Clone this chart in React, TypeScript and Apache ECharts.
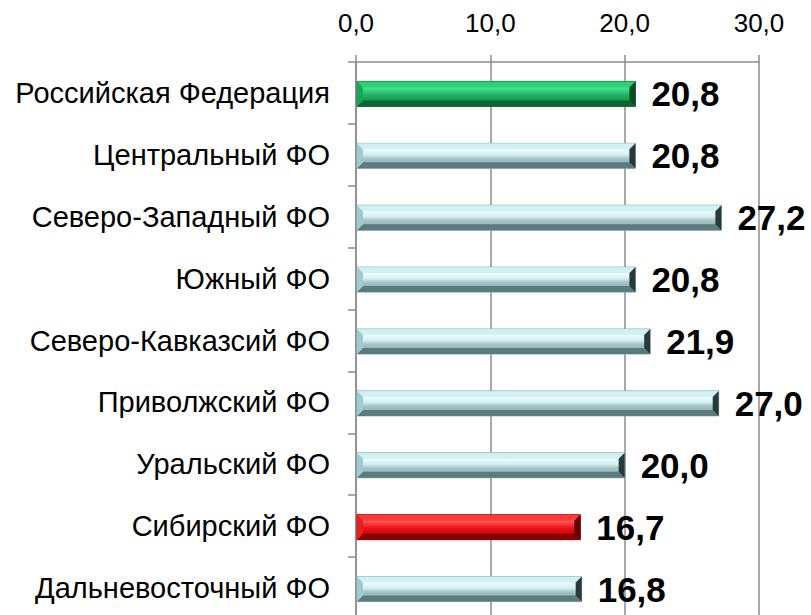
import React, { useEffect, useRef } from "react";
import * as echarts from "echarts";

const categories = [
  "Российская Федерация",
  "Центральный ФО",
  "Северо-Западный ФО",
  "Южный ФО",
  "Северо-Кавказсий ФО",
  "Приволжский ФО",
  "Уральский ФО",
  "Сибирский ФО",
  "Дальневосточный ФО",
];
const values = [20.8, 20.8, 27.2, 20.8, 21.9, 27.0, 20.0, 16.7, 16.8];
const barKinds = ["green", "cyan", "cyan", "cyan", "cyan", "cyan", "cyan", "red", "cyan"];
const xTicks = { min: 0, max: 30, interval: 10 };

const palettes: Record<string, any> = {
  cyan: {
    face: [
      [0, "#d2f1f4"],
      [0.2, "#f4feff"],
      [0.45, "#d4f0f2"],
      [0.62, "#a3c3c5"],
      [1, "#83a3a5"],
    ],
    top: "#cdeef1",
    bottom: "#5b7b7e",
    left: "#9ecbcf",
    right: "#26393b",
    edge: "#8fb0b3",
  },
  green: {
    face: [
      [0, "#22c066"],
      [0.25, "#48e592"],
      [0.55, "#1eb062"],
      [1, "#118040"],
    ],
    top: "#2ccf74",
    bottom: "#0b6630",
    left: "#1aa657",
    right: "#084a22",
    edge: "#0f7a3a",
  },
  red: {
    face: [
      [0, "#ff2a2a"],
      [0.25, "#ff5656"],
      [0.55, "#e81212"],
      [1, "#a80000"],
    ],
    top: "#ff3b3b",
    bottom: "#850000",
    left: "#e42020",
    right: "#5e0000",
    edge: "#c00000",
  },
};

const fmt = (v: number) => v.toFixed(1).replace(".", ",");
const FONT = "'Liberation Sans', Arial, sans-serif";

export default function App() {
  const ref = useRef<HTMLDivElement>(null);
  useEffect(() => {
    if (!ref.current) return;
    const chart = echarts.init(ref.current, null, { renderer: "svg" });
    const data = values.map((v, i) => [v, i]);
    chart.setOption({
      animation: false,
      backgroundColor: "#ffffff",
      grid: { left: 356, top: 62, width: 403, height: 557, outerBoundsMode: "none", containLabel: false },
      xAxis: {
        type: "value",
        position: "top",
        min: xTicks.min,
        max: xTicks.max,
        interval: xTicks.interval,
        axisLine: { show: true, lineStyle: { color: "#8c8c8c", width: 1.5 } },
        axisTick: { show: true, length: 7, lineStyle: { color: "#8c8c8c", width: 1.5 } },
        splitLine: { show: true, lineStyle: { color: "#8c8c8c", width: 1.5 } },
        axisLabel: {
          formatter: (v: number) => fmt(v),
          fontSize: 26,
          fontFamily: FONT,
          color: "#000",
          margin: 26,
        },
      },
      yAxis: {
        type: "category",
        inverse: true,
        data: categories,
        axisLine: { show: true, lineStyle: { color: "#8c8c8c", width: 1.5 } },
        axisTick: { show: true, length: 8, alignWithLabel: false, lineStyle: { color: "#8c8c8c", width: 1.5 } },
        axisLabel: {
          fontSize: 29,
          fontFamily: FONT,
          color: "#000",
          margin: 26,
        },
      },
      series: [
        {
          type: "custom",
          encode: { x: 0, y: 1 },
          data,
          renderItem: (params: any, api: any) => {
            const v = api.value(0);
            const idx = api.value(1);
            const s = api.coord([0, idx]);
            const e = api.coord([v, idx]);
            const h = 25;
            const b = 6;
            const x0 = s[0] + 1;
            const x1 = e[0];
            const yc = s[1] + 1;
            const y0 = yc - h / 2;
            const y1 = yc + h / 2;
            const p = palettes[barKinds[params.dataIndex]];
            const stops = p.face.map((st: any) => ({ offset: st[0], color: st[1] }));
            return {
              type: "group",
              children: [
                {
                  type: "rect",
                  shape: { x: x0, y: y0, width: x1 - x0, height: h },
                  style: {
                    fill: new echarts.graphic.LinearGradient(0, 0, 0, 1, stops),
                    stroke: p.edge,
                    lineWidth: 1,
                  },
                },
                {
                  type: "polygon",
                  shape: { points: [[x0, y0], [x1, y0], [x1 - b, y0 + b], [x0 + b, y0 + b]] },
                  style: { fill: p.top, opacity: 0.85 },
                },
                {
                  type: "polygon",
                  shape: { points: [[x0, y1], [x1, y1], [x1 - b, y1 - b], [x0 + b, y1 - b]] },
                  style: { fill: p.bottom },
                },
                {
                  type: "polygon",
                  shape: { points: [[x0, y0], [x0 + b, y0 + b], [x0 + b, y1 - b], [x0, y1]] },
                  style: { fill: p.left },
                },
                {
                  type: "polygon",
                  shape: { points: [[x1, y0], [x1 - b, y0 + b], [x1 - b, y1 - b], [x1, y1]] },
                  style: { fill: p.right },
                },
                {
                  type: "text",
                  style: {
                    x: x1 + 16,
                    y: yc,
                    text: fmt(v),
                    fill: "#000",
                    font: "bold 35px " + FONT,
                    verticalAlign: "middle",
                    align: "left",
                  },
                },
              ],
            };
          },
        },
      ],
    });
    return () => chart.dispose();
  }, []);
  return <div ref={ref} style={{ width: 811, height: 615, position: "absolute", left: 0, top: 0 }} />;
}
